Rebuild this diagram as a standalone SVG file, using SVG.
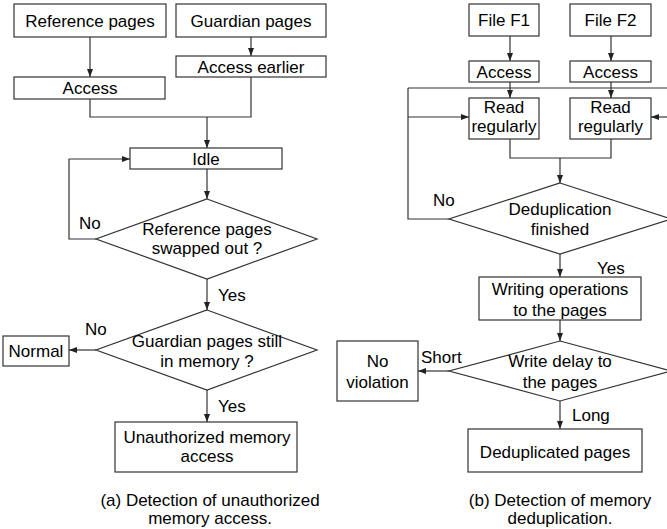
<svg xmlns="http://www.w3.org/2000/svg" width="667" height="529" viewBox="0 0 667 529">
<style>
.n{fill:#fff;stroke:#333;stroke-width:1.2}
.t{font-family:"Liberation Sans",Arial,sans-serif;font-size:17px;fill:#000;text-anchor:middle}
.l{font-family:"Liberation Sans",Arial,sans-serif;font-size:17px;fill:#000}
.c{fill:none;stroke:#333;stroke-width:1.2}
.a{marker-end:url(#ah)}
</style>
<defs>
<marker id="ah" markerUnits="userSpaceOnUse" markerWidth="8" markerHeight="8" viewBox="0 0 8 8" refX="8" refY="4" orient="auto">
<path d="M0,1 L8,4 L0,7 Z" fill="#222"/>
</marker>
</defs>
<g id="connectors">
<path class="c a" d="M90,37 V77"/>
<path class="c a" d="M251,37 V56"/>
<path class="c" d="M90,99 V117 H251 V77"/>
<path class="c a" d="M207,117 V148"/>
<path class="c a" d="M207,169 V199"/>
<path class="c a" d="M96,239 H69 V159 H130"/>
<path class="c a" d="M207,279 V310"/>
<path class="c a" d="M96,350 H69"/>
<path class="c a" d="M207,390 V422"/>
<path class="c a" d="M510,36 V61"/>
<path class="c a" d="M611,36 V61"/>
<path class="c a" d="M510,82 V98"/>
<path class="c a" d="M611,82 V98"/>
<path class="c" d="M408,88 H667"/>
<path class="c" d="M449,219 H408 V88"/>
<path class="c a" d="M408,117 H469"/>
<path class="c a" d="M667,117 H651"/>
<path class="c" d="M510,139 V158 H611 V139"/>
<path class="c a" d="M560,158 V183"/>
<path class="c a" d="M560,254 V277"/>
<path class="c a" d="M560,320 V341"/>
<path class="c a" d="M449,371 H418"/>
<path class="c a" d="M560,401 V429"/>
<text class="l" x="79" y="229">No</text>
<text class="l" x="218" y="301">Yes</text>
<text class="l" x="85" y="335">No</text>
<text class="l" x="218" y="412">Yes</text>
<text class="l" x="433" y="206">No</text>
<text class="l" x="597" y="274">Yes</text>
<text class="l" x="421" y="363">Short</text>
<text class="l" x="572" y="421">Long</text>
</g>
<g id="refPages"><rect class="n" x="14" y="4" width="152" height="33"/><text class="t" x="90" y="26.5">Reference pages</text></g>
<g id="guardPages"><rect class="n" x="176" y="4" width="150" height="33"/><text class="t" x="251" y="26.5">Guardian pages</text></g>
<g id="access"><rect class="n" x="14" y="77" width="151" height="22"/><text class="t" x="90" y="94">Access</text></g>
<g id="accessEarlier"><rect class="n" x="176" y="56" width="150" height="21"/><text class="t" x="251" y="72.5">Access earlier</text></g>
<g id="idle"><rect class="n" x="130" y="148" width="152" height="21"/><text class="t" x="206" y="164.5">Idle</text></g>
<g id="swapped"><polygon class="n" points="207,199 317,239 207,279 96,239"/><text class="t" x="207" y="235">Reference pages</text><text class="t" x="207" y="254">swapped out ?</text></g>
<g id="guardMem"><polygon class="n" points="207,310 317,350 207,390 96,350"/><text class="t" x="207" y="347">Guardian pages still</text><text class="t" x="207" y="367">in memory ?</text></g>
<g id="normal"><rect class="n" x="3" y="336" width="66" height="30"/><text class="t" x="36" y="357">Normal</text></g>
<g id="unauth"><rect class="n" x="115" y="422" width="182" height="50"/><text class="t" x="207" y="443">Unauthorized memory</text><text class="t" x="207" y="462">access</text></g>
<g id="captionA"><text class="t" x="210" y="506">(a) Detection of unauthorized</text><text class="t" x="210" y="524">memory access.</text></g>
<g id="fileF1"><rect class="n" x="469" y="4" width="70" height="32"/><text class="t" x="504" y="26">File F1</text></g>
<g id="fileF2"><rect class="n" x="570" y="4" width="81" height="32"/><text class="t" x="610.5" y="26">File F2</text></g>
<g id="access1"><rect class="n" x="469" y="61" width="70" height="21"/><text class="t" x="504" y="77.5">Access</text></g>
<g id="access2"><rect class="n" x="570" y="61" width="81" height="21"/><text class="t" x="610.5" y="77.5">Access</text></g>
<g id="read1"><rect class="n" x="469" y="98" width="70" height="41"/><text class="t" x="504" y="113">Read</text><text class="t" x="504" y="132">regularly</text></g>
<g id="read2"><rect class="n" x="570" y="98" width="81" height="41"/><text class="t" x="610.5" y="113">Read</text><text class="t" x="610.5" y="132">regularly</text></g>
<g id="dedupFinished"><polygon class="n" points="560,183 671,219 560,254 449,219"/><text class="t" x="560" y="215">Deduplication</text><text class="t" x="560" y="235">finished</text></g>
<g id="writing"><rect class="n" x="479" y="277" width="162" height="43"/><text class="t" x="560" y="295">Writing operations</text><text class="t" x="560" y="316">to the pages</text></g>
<g id="writeDelay"><polygon class="n" points="560,341 671,371 560,401 449,371"/><text class="t" x="560" y="367">Write delay to</text><text class="t" x="560" y="388">the pages</text></g>
<g id="noViolation"><rect class="n" x="337" y="341" width="81" height="60"/><text class="t" x="377.5" y="367">No</text><text class="t" x="377.5" y="388">violation</text></g>
<g id="dedupPages"><rect class="n" x="468" y="429" width="174" height="43"/><text class="t" x="555" y="458">Deduplicated pages</text></g>
<g id="captionB"><text class="t" x="560" y="506">(b) Detection of memory</text><text class="t" x="560" y="524">deduplication.</text></g>
</svg>
